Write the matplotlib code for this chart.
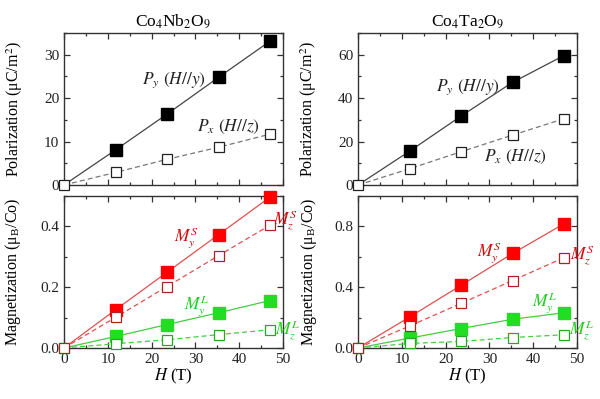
import matplotlib
matplotlib.use("Agg")
import matplotlib.pyplot as plt
from matplotlib.ticker import MultipleLocator

plt.rcParams['font.family'] = ['Liberation Serif', 'DejaVu Serif']
plt.rcParams['mathtext.fontset'] = 'stix'

# Data
H = [0, 11.8, 23.5, 35.3, 47.0]

nb_Py = [0, 8.1, 16.3, 24.8, 33.1]
nb_Px = [0, 2.9, 5.9, 8.7, 11.7]
nb_MyS = [0, 0.126, 0.249, 0.373, 0.496]
nb_MzS = [0, 0.101, 0.202, 0.304, 0.404]
nb_MyL = [0, 0.038, 0.077, 0.116, 0.156]
nb_MzL = [0, 0.014, 0.027, 0.044, 0.060]

ta_Py = [0, 15.6, 31.7, 47.3, 59.6]
ta_Px = [0, 7.5, 15.3, 23.0, 30.5]
ta_MyS = [0, 0.204, 0.412, 0.622, 0.817]
ta_MzS = [0, 0.145, 0.293, 0.444, 0.594]
ta_MyL = [0, 0.065, 0.128, 0.189, 0.232]
ta_MzL = [0, 0.030, 0.043, 0.069, 0.087]

titles = ["Co$_4$Nb$_2$O$_9$", "Co$_4$Ta$_2$O$_9$"]

fig = plt.figure(figsize=(6.0, 3.99), dpi=100)
W = 219/600; Hh = 152/399
axTL = fig.add_axes([64/600, 1-185/399, W, Hh])
axBL = fig.add_axes([64/600, 1-348/399, W, Hh])
axTR = fig.add_axes([358/600, 1-185/399, W, Hh])
axBR = fig.add_axes([358/600, 1-348/399, W, Hh])

RED_F = '#ff0000'; RED_E = '#b22020'; RED_L = '#e05050'
GRN_F = '#22dd22'; GRN_E = '#22aa22'; GRN_L = '#44cc44'
BLK_L = '#444444'; GRY_L = '#777777'

def style(ax, ymaj, ymin, ylim, showx):
    ax.set_xlim(0, 50)
    ax.set_ylim(*ylim)
    ax.xaxis.set_major_locator(MultipleLocator(10))
    ax.xaxis.set_minor_locator(MultipleLocator(5))
    ax.yaxis.set_major_locator(MultipleLocator(ymaj))
    ax.yaxis.set_minor_locator(MultipleLocator(ymin))
    ax.tick_params(which='both', direction='in', top=True, right=True, colors='#333333',
                   labelsize=11, labelcolor='#222222', width=0.9)
    ax.tick_params(which='major', length=4)
    ax.tick_params(which='minor', length=2)
    for s in ax.spines.values():
        s.set_color('#333333'); s.set_linewidth(1.0)
    if not showx:
        ax.tick_params(labelbottom=False)
    else:
        ax.set_xlabel("$H$ (T)", fontsize=12, labelpad=1)

def pol(ax, Py, Px):
    ax.plot(H, Py, '-', color=BLK_L, lw=0.9, clip_on=False, zorder=3)
    ax.plot(H[1:], Py[1:], 's', ms=8, mfc='black', mec='black', clip_on=False, zorder=4)
    ax.plot(H, Px, '--', color=GRY_L, lw=0.9, dashes=(4, 2.5), clip_on=False, zorder=3)
    ax.plot(H, Px, 's', ms=7.5, mfc='white', mec='#222222', mew=0.9, clip_on=False, zorder=4)

def mag(ax, MyS, MzS, MyL, MzL):
    ax.plot(H, MyL, '-', color=GRN_L, lw=0.9, clip_on=False, zorder=3)
    ax.plot(H[1:], MyL[1:], 's', ms=8, mfc=GRN_F, mec=GRN_F, clip_on=False, zorder=4)
    ax.plot(H, MzL, '--', color=GRN_L, lw=0.9, dashes=(4, 2.5), clip_on=False, zorder=3)
    ax.plot(H, MzL, 's', ms=7.5, mfc='white', mec=GRN_E, mew=0.9, clip_on=False, zorder=4)
    ax.plot(H, MyS, '-', color=RED_L, lw=0.9, clip_on=False, zorder=3)
    ax.plot(H[1:], MyS[1:], 's', ms=8, mfc=RED_F, mec=RED_F, clip_on=False, zorder=4)
    ax.plot(H, MzS, '--', color=RED_L, lw=0.9, dashes=(4, 2.5), clip_on=False, zorder=3)
    ax.plot(H, MzS, 's', ms=7.5, mfc='white', mec=RED_E, mew=0.9, clip_on=False, zorder=5)

pol(axTL, nb_Py, nb_Px)
pol(axTR, ta_Py, ta_Px)
mag(axBL, nb_MyS, nb_MzS, nb_MyL, nb_MzL)
mag(axBR, ta_MyS, ta_MzS, ta_MyL, ta_MzL)

style(axTL, 10, 5, (0, 35), False)
style(axTR, 20, 10, (0, 70), False)
style(axBL, 0.2, 0.1, (0, 0.5), True)
style(axBR, 0.4, 0.2, (0, 1.0), True)

for ax, t in [(axTL, titles[0]), (axTR, titles[1])]:
    ax.set_title(t, fontsize=12.5, pad=5)

for ax, x in [(axTL, -0.18), (axTR, -0.18)]:
    ax.set_ylabel("Polarization (μC/m$^2$)", fontsize=11.5)
    ax.yaxis.set_label_coords(x, 0.5)
for ax, x in [(axBL, -0.185), (axBR, -0.18)]:
    ax.set_ylabel("Magnetization (μ$_\\mathregular{B}$/Co)", fontsize=11.5)
    ax.yaxis.set_label_coords(x, 0.5)

fs = 12.5
axTL.text(25, 24.2, "$P_y$ $(H//y)$", fontsize=fs, ha='center', va='center', color='#222222')
axTL.text(37.5, 13.4, "$P_x$ $(H//z)$", fontsize=fs, ha='center', va='center', color='#222222')
axTR.text(25, 45, "$P_y$ $(H//y)$", fontsize=fs, ha='center', va='center', color='#222222')
axTR.text(36, 12.9, "$P_x$ $(H//z)$", fontsize=fs, ha='center', va='center', color='#222222')

axBL.text(28, 0.362, "$M_y^S$", fontsize=fs, ha='center', va='center', color='#cc1010')
axBL.text(50.5, 0.42, "$M_z^S$", fontsize=fs, ha='center', va='center', color='#cc1010')
axBL.text(30.3, 0.141, "$M_y^L$", fontsize=fs, ha='center', va='center', color='#22cc22')
axBL.text(51, 0.059, "$M_z^L$", fontsize=fs, ha='center', va='center', color='#22cc22')

axBR.text(30, 0.63, "$M_y^S$", fontsize=fs, ha='center', va='center', color='#cc1010')
axBR.text(51.2, 0.61, "$M_z^S$", fontsize=fs, ha='center', va='center', color='#cc1010')
axBR.text(42.7, 0.30, "$M_y^L$", fontsize=fs, ha='center', va='center', color='#22cc22')
axBR.text(51, 0.118, "$M_z^L$", fontsize=fs, ha='center', va='center', color='#22cc22')

fig.savefig("out.png", dpi=100)
